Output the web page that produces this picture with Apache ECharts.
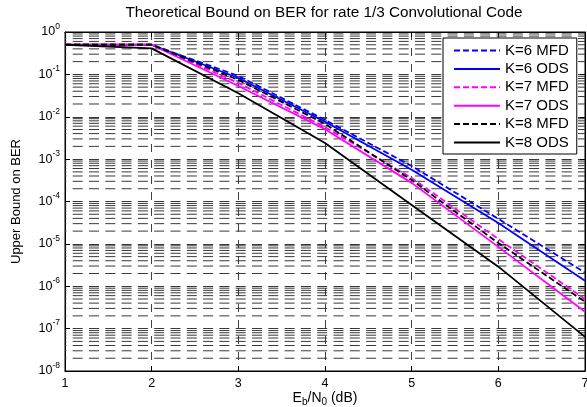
<!DOCTYPE html>
<html>
<head>
<meta charset="utf-8">
<script src="https://cdn.jsdelivr.net/npm/echarts@6/dist/echarts.min.js"></script>
<style>
  html, body { margin: 0; padding: 0; background: #fff; }
  #chart { width: 587px; height: 407px; }
</style>
</head>
<body>
<div id="chart"></div>
<script>
// Eb/N0 in dB
const ebn0 = [1, 2, 3, 4, 5, 6, 7];

// Upper bounds on bit error rate, rate 1/3 convolutional codes
const k6MFD = [0.5, 0.5, 0.092, 8.4e-3, 6.9e-4, 3.9e-5, 2.1e-6];
const k6ODS = [0.5, 0.5, 0.082, 7.6e-3, 5.6e-4, 3.1e-5, 1.35e-6];
const k7MFD = [0.5, 0.5, 0.063, 5.7e-3, 3.6e-4, 1.3e-5, 5.0e-7];
const k7ODS = [0.5, 0.5, 0.053, 5.1e-3, 2.75e-4, 8.5e-6, 2.5e-7];
const k8MFD = [0.5, 0.5, 0.074, 6.8e-3, 3.2e-4, 1.05e-5, 4.3e-7];
const k8ODS = [0.5, 0.41, 0.036, 2.4e-3, 8.3e-5, 2.9e-6, 6.4e-8];

const seriesNames = ['K=6 MFD', 'K=6 ODS', 'K=7 MFD', 'K=7 ODS', 'K=8 MFD', 'K=8 ODS'];
const seriesData = [k6MFD, k6ODS, k7MFD, k7ODS, k8MFD, k8ODS];
const seriesColors = ['#0000ff', '#0000ff', '#ff00ff', '#ff00ff', '#000000', '#000000'];
const seriesDashed = [true, false, true, false, true, false];

// log axis range (decades)
const yMinExp = -8, yMaxExp = 0;
const xMin = 1, xMax = 7;

// minor grid positions 2..9 x 10^k within each decade
const minorGrid = [];
for (let e = yMinExp; e < yMaxExp; e++) {
  for (let m = 2; m <= 9; m++) minorGrid.push(m * Math.pow(10, e));
}

const FONT = '"Liberation Sans", Arial, Helvetica, sans-serif';
const gridDash = { color: '#383838', width: 1, type: [10, 6.3], dashOffset: 8.6 };

const chart = echarts.init(document.getElementById('chart'), null, { renderer: 'canvas' });

const series = [];

// dashed minor grid: one broken line, a horizontal segment per minor value
const minorPts = [];
minorGrid.forEach(v => { minorPts.push([xMin, v], [xMax, v], ['-', '-']); });
series.push({
  name: 'minor-grid',
  type: 'line',
  data: minorPts,
  symbol: 'none',
  silent: true,
  connectNulls: false,
  lineStyle: gridDash,
  emphasis: { disabled: true },
  z: 1
});

seriesNames.forEach((name, i) => {
  series.push({
    name: name,
    type: 'line',
    data: ebn0.map((x, j) => [x, seriesData[i][j]]),
    symbol: 'none',
    silent: true,
    lineStyle: {
      color: seriesColors[i],
      width: 1.8,
      type: seriesDashed[i] ? [6, 3] : 'solid'
    },
    itemStyle: { color: seriesColors[i] },
    z: 5
  });
});

const option = {
  animation: false,
  backgroundColor: '#ffffff',
  textStyle: { fontFamily: FONT, color: '#000' },
  title: {
    text: 'Theoretical Bound on BER for rate 1/3 Convolutional Code',
    left: 324, top: 5, textAlign: 'center', padding: 0,
    textStyle: { fontFamily: FONT, fontSize: 15.3, fontWeight: 'normal', color: '#000' }
  },
  grid: {
    left: 65, right: 2, top: 32, bottom: 36,
    outerBoundsMode: 'none', containLabel: false,
    show: true, borderColor: '#000', borderWidth: 1, backgroundColor: 'transparent'
  },
  legend: {
    data: seriesNames,
    orient: 'vertical',
    left: 443, top: 38,
    padding: [5, 8, 4, 10],
    itemWidth: 46, itemHeight: 14, itemGap: 3.4,
    backgroundColor: '#ffffff',
    borderColor: '#000', borderWidth: 1,
    itemStyle: { opacity: 0, borderWidth: 0 },
    textStyle: { fontFamily: FONT, fontSize: 15, lineHeight: 14, color: '#000' },
    z: 10
  },
  xAxis: [{
    type: 'value', min: xMin, max: xMax, interval: 1,
    name: 'E{sub|b}/N{sub|0} (dB)',
    nameLocation: 'middle', nameGap: 19, nameMoveOverlap: false,
    nameTextStyle: {
      fontFamily: FONT, fontSize: 14, color: '#000', verticalAlign: 'top',
      rich: { sub: { fontFamily: FONT, fontSize: 10, padding: [7, 0, 0, 0] } }
    },
    axisLine: { show: true, lineStyle: { color: '#000', width: 1 } },
    axisTick: { show: true, inside: true, length: 5, lineStyle: { color: '#000' } },
    axisLabel: { fontFamily: FONT, fontSize: 12.5, color: '#000', margin: 6 },
    splitLine: { show: true, lineStyle: { color: '#404040', width: 1, type: [8, 8] } }
  }, {
    type: 'value', min: xMin, max: xMax, interval: 1, position: 'top',
    axisLine: { show: true, lineStyle: { color: '#000' } },
    axisTick: { show: true, inside: true, length: 5, lineStyle: { color: '#000' } },
    axisLabel: { show: false },
    splitLine: { show: false }
  }],
  yAxis: [{
    type: 'log', logBase: 10,
    min: Math.pow(10, yMinExp), max: Math.pow(10, yMaxExp),
    name: 'Upper Bound on BER',
    nameLocation: 'middle', nameGap: 42, nameMoveOverlap: false,
    nameTextStyle: { fontFamily: FONT, fontSize: 13, color: '#000' },
    axisLine: { show: true, lineStyle: { color: '#000', width: 1 } },
    axisTick: { show: true, inside: true, length: 5, lineStyle: { color: '#000' } },
    axisLabel: {
      fontFamily: FONT, color: '#000', margin: 5,
      formatter: v => '{b|10}{s|' + Math.round(Math.log10(v)) + '}',
      rich: {
        b: { fontFamily: FONT, fontSize: 12.5, lineHeight: 20, verticalAlign: 'middle' },
        s: { fontFamily: FONT, fontSize: 8.5, lineHeight: 8, verticalAlign: 'top' }
      }
    },
    splitLine: { show: true, lineStyle: gridDash }
  }, {
    type: 'log', logBase: 10, position: 'right',
    min: Math.pow(10, yMinExp), max: Math.pow(10, yMaxExp),
    axisLine: { show: true, lineStyle: { color: '#000' } },
    axisTick: { show: true, inside: true, length: 5, lineStyle: { color: '#000' } },
    axisLabel: { show: false },
    splitLine: { show: false }
  }],
  series: series
};

chart.setOption(option);
</script>
</body>
</html>
